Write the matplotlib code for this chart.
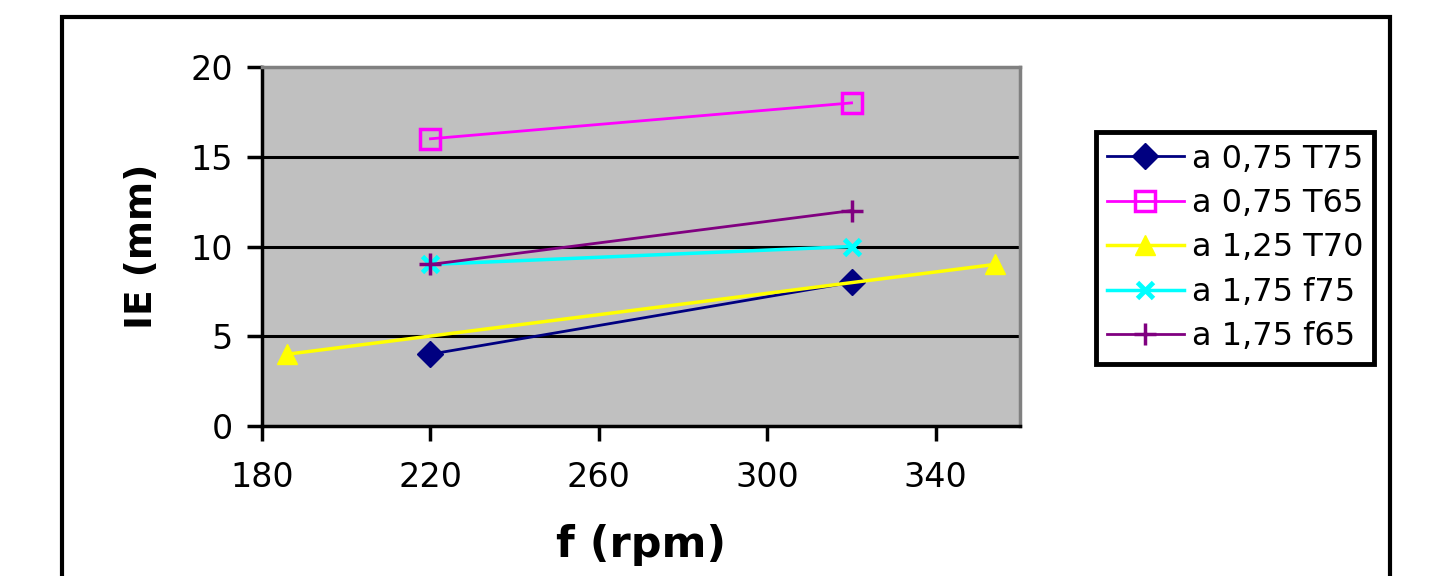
import matplotlib.pyplot as plt
from matplotlib.patches import Rectangle

# ---------------------------------------
# Data
# ---------------------------------------

labels = ["a 0,75 T75", "a 0,75 T65", "a 1,25 T70", "a 1,75 f75", "a 1,75 f65"]

x_t75 = [220, 320]
y_t75 = [4, 8]

x_t65 = [220, 320]
y_t65 = [16, 18]

x_t70 = [186, 354]
y_t70 = [4, 9]

x_f75 = [220, 320]
y_f75 = [9, 10]

x_f65 = [220, 320]
y_f65 = [9, 12]

x_ticks = [180, 220, 260, 300, 340]
y_ticks = [0, 5, 10, 15, 20]

# ---------------------------------------
# Plot
# ---------------------------------------

fig = plt.figure(figsize=(14.45, 5.76), dpi=100)
ax = fig.add_axes([262 / 1445, 1 - 426 / 576, 758 / 1445, 359 / 576])
ax.set_facecolor("#C0C0C0")

ax.plot(x_t75, y_t75, color="#000080", marker="D", markersize=13, lw=2, label=labels[0], zorder=3)
ax.plot(x_t65, y_t65, color="#FF00FF", marker="s", markersize=14, mfc="none", mew=2.5, lw=2, label=labels[1], zorder=3)
ax.plot(x_t70, y_t70, color="#FFFF00", marker="^", markersize=15, lw=2.5, label=labels[2], zorder=3)
ax.plot(x_f75, y_f75, color="#00FFFF", marker="x", markersize=12, mew=3.5, lw=2.5, label=labels[3], zorder=3)
ax.plot(x_f65, y_f65, color="#800080", marker="+", markersize=16, mew=2.5, lw=2, label=labels[4], zorder=3)

ax.set_xlim(180, 360)
ax.set_ylim(0, 20)
ax.set_xticks(x_ticks)
ax.set_yticks(y_ticks)

for yv in [5, 10, 15]:
    ax.axhline(yv, color="black", lw=2.2, zorder=1)

for side in ["top", "right"]:
    ax.spines[side].set_color("#808080")
    ax.spines[side].set_linewidth(2.5)
for side in ["left", "bottom"]:
    ax.spines[side].set_color("black")
    ax.spines[side].set_linewidth(2.5)

ax.tick_params(direction="out", length=11, width=2.5, labelsize=24)
ax.tick_params(axis="x", pad=14)
ax.tick_params(axis="y", pad=10)

ax.set_xlabel("f (rpm)", fontsize=31, fontweight="bold", labelpad=22)
ax.set_ylabel("IE (mm)", fontsize=27, fontweight="bold", labelpad=22)

leg = fig.legend(
    loc="center",
    bbox_to_anchor=(1235 / 1445, 1 - 248 / 576),
    fontsize=23,
    frameon=True,
    fancybox=False,
    framealpha=1,
    handlelength=2.4,
    handletextpad=0.25,
    labelspacing=0.42,
    borderpad=0.35,
    borderaxespad=0
)
leg.get_frame().set_edgecolor("black")
leg.get_frame().set_linewidth(3.5)

# outer chart frame
fig.patches.append(Rectangle(
    (62 / 1445, -0.1), (1390 - 62) / 1445, 1.1 - 17 / 576,
    transform=fig.transFigure, fill=False, edgecolor="black", lw=3
))

plt.savefig("out.png", dpi=100)
